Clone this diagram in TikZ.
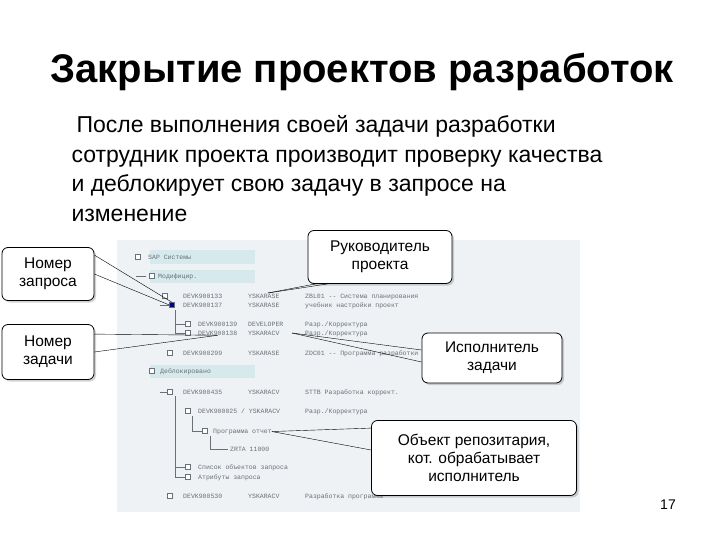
\documentclass[tikz,border=0pt]{standalone}
\usepackage{fontspec}
\setmainfont{Liberation Sans}
\setmonofont{Liberation Mono}
\usetikzlibrary{shadows}
\definecolor{scrbg}{HTML}{EEF2F5}
\definecolor{hlbg}{HTML}{D6E9EC}
\definecolor{treegray}{HTML}{6A7078}
\tikzset{
  callout/.style={draw,thick,rounded corners=6pt,fill=white,align=center,
    font=\fontsize{15.5}{18}\selectfont,inner sep=3pt,
    drop shadow={shadow xshift=2pt,shadow yshift=-2pt,opacity=0.35}},
  row/.style={anchor=base west,inner sep=0pt,text=treegray,font=\fontsize{6.5}{7}\selectfont\ttfamily},
  box/.style={draw=treegray,fill=white,minimum size=5pt,inner sep=0pt},
  pointer/.style={thin}
}
\begin{document}
\begin{tikzpicture}[x=1pt,y=-1pt]
        \useasboundingbox (0,0) rectangle (720,540);

        % Title and text
        \node[anchor=west,font=\fontsize{40}{44}\selectfont\bfseries] (title) at (47,72) {Закрытие проектов разработок};
        \node[anchor=north west,align=left,font=\fontsize{23}{29.5}\selectfont] (body) at (68,112)
          {\hspace*{5pt}После выполнения своей задачи разработки\\сотрудник проекта производит проверку качества\\и деблокирует свою задачу в запросе на\\изменение};

        % Screenshot
        \fill[scrbg] (117,240) rectangle (580,512);
        \fill[hlbg] (150,250) rectangle (255,264);
        \fill[hlbg] (150,270) rectangle (255,283);
        \fill[hlbg] (150,365) rectangle (255,378);
        \draw[treegray] (146,276) -- (136,276) (170,305) -- (160,305) (175,310) -- (175,333) -- (190,333)
          (175,324) -- (190,324) (170,392) -- (160,392) (175,396) -- (175,477) -- (190,477) (175,467) -- (190,467)
          (192,416) -- (192,431) -- (205,431) (210,436) -- (210,449) -- (228,449);
        \foreach \ix/\iy in {138/257,152/276,165/296,188/324,188/333,170/353,152/371,170/392,188/411,205/431,188/467,188/477,170/496}
          \node[box] at (\ix,\iy) {};
        \node[box,fill=blue!60!black] (req) at (172,305) {};
        \node[row] at (148,259) {SAP Системы};
        \node[row] at (158,278) {Модифицир.};
        \node[row] at (183,298) {DEVK900133};
        \node[row] at (183,307) {DEVK900137};
        \node[row] at (198,326) {DEVK900139};
        \node[row] (task) at (198,335) {DEVK900138};
        \node[row] at (183,355) {DEVK900299};
        \node[row] at (160,373) {Деблокировано};
        \node[row] at (183,394) {DEVK900435};
        \node[row] at (198,413) {DEVK900025 / YSKARACV};
        \node[row] (obj) at (213,433) {Программа отчет};
        \node[row] at (230,451) {ZRTA 11000};
        \node[row] at (198,469) {Список объектов запроса};
        \node[row] at (198,479) {Атрибуты запроса};
        \node[row] at (183,498) {DEVK900530};
        \foreach \iy/\ia/\ib in {298/YSKARASE/ZBL01 -- Система планирования,307/YSKARASE/учебник настройки проект,326/DEVELOPER/{Разр./Корректура},335/YSKARACV/{Разр./Корректура},355/YSKARASE/ZDC01 -- Программа разработки,394/YSKARACV/STTB Разработка коррект.,498/YSKARACV/Разработка программы}
          {\node[row] at (248,\iy) {\ia}; \node[row] at (305,\iy) {\ib};}
        \node[row] at (305,413) {Разр./Корректура};
        \coordinate (lead) at (268,293);
        \coordinate (worker) at (292,333);

        % Callouts
        \node[callout,minimum width=92pt,minimum height=53pt] (nreq) at (48,274) {Номер\\запроса};
        \node[callout,minimum width=92pt,minimum height=55pt] (ntask) at (48,352) {Номер\\задачи};
        \node[callout,minimum width=144pt,minimum height=53pt] (nlead) at (380,257) {Руководитель\\проекта};
        \node[callout,minimum width=140pt,minimum height=50pt] (nwork) at (492,358) {Исполнитель\\задачи};
        \node[callout,minimum width=205pt,minimum height=75pt] (nobj) at (474,458) {Объект репозитария,\\кот. обрабатывает\\исполнитель};

        % Pointers
        \draw[pointer] (nreq.north east) ++(0,8) -- (req.north);
        \draw[pointer] (nreq.east) -- (req.west);
        \draw[pointer] (ntask.north east) ++(0,10) -- (task.south);
        \draw[pointer] (ntask.east) -- (task.south);
        \draw[pointer] (nlead.south west) ++(8,0) -- (lead);
        \draw[pointer] (nlead.south west) ++(20,0) -- (lead);
        \draw[pointer] (nwork.west) ++(0,-8) -- (worker);
        \draw[pointer] (nwork.west) ++(0,4) -- (worker);
        \draw[pointer] (nobj.north west) ++(0,8) -- (obj.east);
        \draw[pointer] (nobj.west) ++(0,-8) -- (obj.east);

        \node[font=\fontsize{14}{16}\selectfont] (page) at (668,505) {17};
\end{tikzpicture}
\end{document}
